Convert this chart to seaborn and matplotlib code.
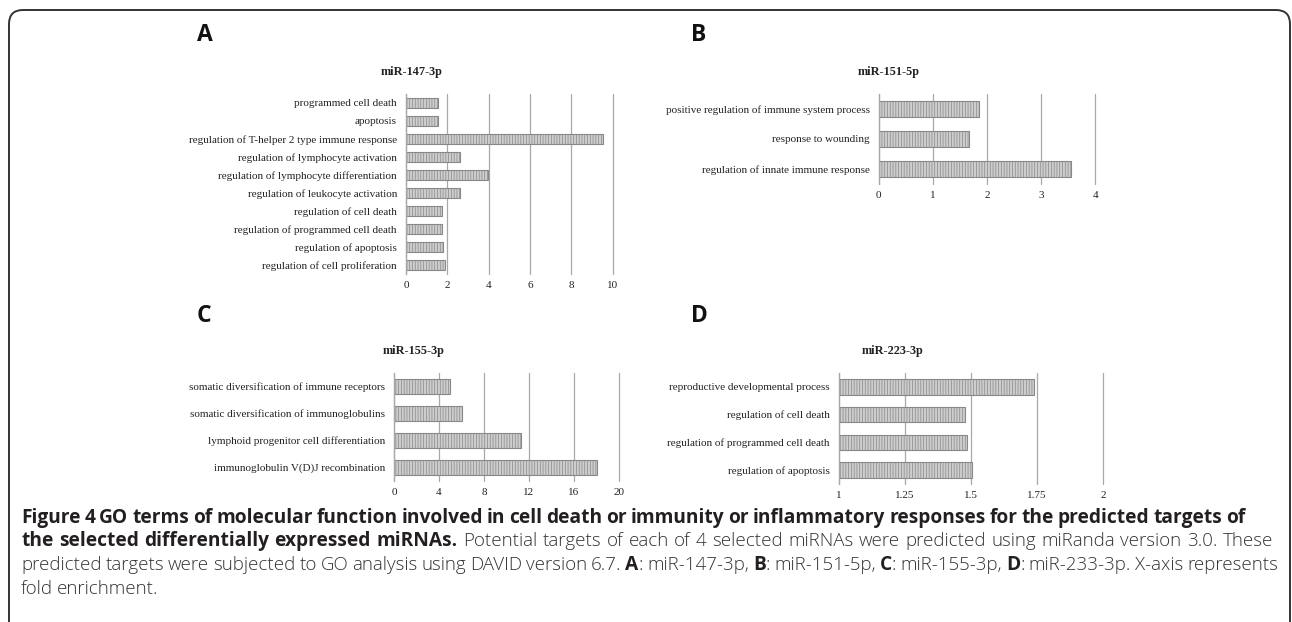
import matplotlib
matplotlib.use("Agg")
from matplotlib import pyplot as plt
from matplotlib.patches import FancyBboxPatch
import seaborn as sns

# panel A: miR-147-3p
a_terms = ["programmed cell death", "apoptosis",
           "regulation of T-helper 2 type immune response",
           "regulation of lymphocyte activation",
           "regulation of lymphocyte differentiation",
           "regulation of leukocyte activation", "regulation of cell death",
           "regulation of programmed cell death", "regulation of apoptosis",
           "regulation of cell proliferation"]
a_values = [1.53, 1.53, 9.52, 2.61, 3.95, 2.63, 1.76, 1.76, 1.79, 1.89]
a_ticks = [0, 2, 4, 6, 8, 10]

# panel B: miR-151-5p
b_terms = ["positive regulation of immune system process",
           "response to wounding", "regulation of innate immune response"]
b_values = [1.85, 1.66, 3.56]
b_ticks = [0, 1, 2, 3, 4]

# panel C: miR-155-3p
c_terms = ["somatic diversification of immune receptors",
           "somatic diversification of immunoglobulins",
           "lymphoid progenitor cell differentiation",
           "immunoglobulin V(D)J recombination"]
c_values = [4.98, 6.02, 11.26, 18.0]
c_ticks = [0, 4, 8, 12, 16, 20]

# panel D: miR-223-3p
d_terms = ["reproductive developmental process", "regulation of cell death",
           "regulation of programmed cell death", "regulation of apoptosis"]
d_values = [1.74, 1.478, 1.486, 1.505]
d_ticks = [1, 1.25, 1.5, 1.75, 2]
d_ticklabels = ["1", "1.25", "1.5", "1.75", "2"]

W, H = 1292, 622
sns.set_style("white")
plt.rcParams["hatch.color"] = "#b9b9b9"
plt.rcParams["hatch.linewidth"] = 0.5

fig = plt.figure(figsize=(W / 100, H / 100), dpi=100)

# background axes in pixel units for frame, letters, titles and caption
bg = fig.add_axes([0, 0, 1, 1])
bg.set_xlim(0, W)
bg.set_ylim(H, 0)
bg.axis("off")
bg.add_patch(FancyBboxPatch((9, 10), 1281, 700,
                            boxstyle="round,pad=0,rounding_size=14",
                            fill=False, ec="#333333", lw=1.4))


def panel(box, terms, values, ticks, labels, xlim, title, title_xy, letter, letter_xy):
    l, t, r, b = box
    ax = fig.add_axes([l / W, 1 - b / H, (r - l) / W, (b - t) / H])
    sns.barplot(x=values, y=terms, orient="h", ax=ax, color="#cdcdcd",
                width=0.55, edgecolor="#888888", linewidth=0.8,
                hatch="||||||", saturation=1)
    ax.set_xlim(*xlim)
    ax.set_xticks(ticks)
    ax.set_xticklabels(labels)
    ax.set_xlabel("")
    ax.set_ylabel("")
    for s in ["top", "right", "bottom"]:
        ax.spines[s].set_visible(False)
    ax.spines["left"].set_color("#a8a8a8")
    ax.spines["left"].set_linewidth(0.9)
    ax.xaxis.grid(True, color="#a8a8a8", lw=0.9)
    for gl in ax.get_xgridlines():
        gl.set_clip_on(False)
    ax.set_axisbelow(True)
    ax.tick_params(axis="both", length=0, labelsize=8.0, colors="#222222")
    ax.tick_params(axis="y", pad=6.5)
    ax.tick_params(axis="x", pad=5)
    for lab in ax.get_xticklabels() + ax.get_yticklabels():
        lab.set_family("Liberation Serif")
    bg.text(*title_xy, title, ha="center", va="center", fontsize=8.8,
            fontweight="bold", family="Liberation Serif", color="#222222")
    bg.text(*letter_xy, letter, ha="left", va="center", fontsize=16.5,
            fontweight="bold", family="Open Sans", color="#111111")
    return ax


panel((406, 94, 612.7, 274), a_terms, a_values, a_ticks, [str(v) for v in a_ticks],
      (0, 10), "miR-147-3p", (412, 72), "A", (197, 35))
panel((878.7, 94, 1095.3, 184), b_terms, b_values, b_ticks, [str(v) for v in b_ticks],
      (0, 4), "miR-151-5p", (889, 72), "B", (691, 35))
panel((394, 373, 619, 481), c_terms, c_values, c_ticks, [str(v) for v in c_ticks],
      (0, 20), "miR-155-3p", (414, 351), "C", (197, 316))
panel((839, 373, 1103, 484), d_terms, d_values, d_ticks, d_ticklabels,
      (1, 2), "miR-223-3p", (893, 351), "D", (691, 316))

# caption with mixed bold / light runs, justified lines
caption = [
    [("Figure 4 GO terms of molecular function involved in cell death or immunity "
      "or inflammatory responses for the predicted targets of", "bold")],
    [("the selected differentially expressed miRNAs.", "bold"),
     (" Potential targets of each of 4 selected miRNAs were predicted using "
      "miRanda version 3.0. These", "light")],
    [("predicted targets were subjected to GO analysis using DAVID version 6.7. ", "light"),
     ("A", "bold"), (": miR-147-3p, ", "light"), ("B", "bold"), (": miR-151-5p, ", "light"),
     ("C", "bold"), (": miR-155-3p, ", "light"), ("D", "bold"),
     (": miR-233-3p. X-axis represents", "light")],
    [("fold enrichment.", "light")],
]
line_y = [518, 541, 565, 589]
line_end = [1245, 1273, 1278, None]

renderer = fig.canvas.get_renderer()


def cap_text(x, y, s, w):
    return bg.text(x, y, s, ha="left", va="center",
                   fontsize=13.8 if w == "bold" else 13.5,
                   fontweight=w, family="Open Sans",
                   color="#231f20" if w == "bold" else "#333333")


for runs, y, end in zip(caption, line_y, line_end):
    words = [[]]
    for s, w in runs:
        for i, p in enumerate(s.split(" ")):
            if i > 0:
                words.append([])
            if p:
                words[-1].append((p, w))
    words = [wd for wd in words if wd]
    pieces = []
    widths = []
    for wd in words:
        x = 0
        arts = []
        for s, w in wd:
            t = cap_text(x, y, s, w)
            arts.append((t, x))
            x += t.get_window_extent(renderer).width
        pieces.append(arts)
        widths.append(x)
    space = 4.0
    if end is not None:
        space = max(3.0, (end - 21 - sum(widths)) / (len(words) - 1))
    x = 21
    for arts, wdt in zip(pieces, widths):
        for t, dx in arts:
            t.set_x(x + dx)
        x += wdt + space

fig.savefig("out.png", dpi=100)
